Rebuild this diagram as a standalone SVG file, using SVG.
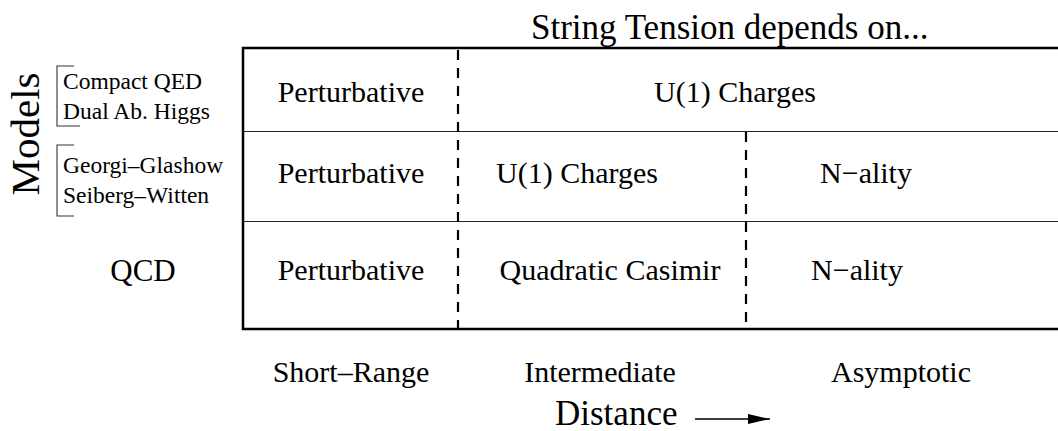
<svg xmlns="http://www.w3.org/2000/svg" width="1058" height="431" viewBox="0 0 1058 431">
<style>
text{font-family:"Liberation Serif","Times New Roman",serif;fill:#000}
.cell{font-size:30px;text-anchor:middle}
.small{font-size:23.5px}
.big{font-size:35px}
.border{stroke:#000;stroke-width:2.5;fill:none}
.thin{stroke:#222;stroke-width:1.2;fill:none}
.dash{stroke:#000;stroke-width:2.2;stroke-dasharray:10 8;fill:none}
.br{stroke:#333;stroke-width:1.1;fill:none}
</style>
<defs>
<marker id="arr" markerWidth="22" markerHeight="10" refX="22" refY="5" orient="auto" markerUnits="userSpaceOnUse">
<path d="M0,0 L22,5 L0,10 Z" fill="#000"/>
</marker>
</defs>
<g id="title"><text class="big" x="531" y="39">String Tension depends on...</text></g>
<g id="table">
<path class="border" d="M1058,48 H243 V329 H1058"/>
<line class="thin" x1="243" y1="131.5" x2="1058" y2="131.5"/>
<line class="thin" x1="243" y1="221.5" x2="1058" y2="221.5"/>
</g>
<g id="connectors">
<line class="dash" x1="458" y1="50" x2="458" y2="328"/>
<line class="dash" x1="746" y1="132" x2="746" y2="328"/>
<line stroke="#000" stroke-width="1.5" x1="695" y1="419" x2="770" y2="419" marker-end="url(#arr)"/>
</g>
<g id="models-label"><text class="big" style="font-size:41px" transform="translate(39,134) rotate(-90)" text-anchor="middle">Models</text></g>
<g id="group1">
<path class="br" d="M74,66 H57 V126 H80"/>
<text class="small" x="63" y="89">Compact QED</text>
<text class="small" x="63" y="119">Dual Ab. Higgs</text>
</g>
<g id="group2">
<path class="br" d="M74,145 H57 V216 H74"/>
<text class="small" x="63" y="173">Georgi–Glashow</text>
<text class="small" x="63" y="203">Seiberg–Witten</text>
</g>
<g id="qcd"><text class="cell" style="font-size:31px" x="143" y="281">QCD</text></g>
<g id="row1">
<text class="cell" x="351" y="102">Perturbative</text>
<text class="cell" x="735" y="102">U(1) Charges</text>
</g>
<g id="row2">
<text class="cell" x="351" y="183">Perturbative</text>
<text class="cell" x="577" y="183">U(1) Charges</text>
<text class="cell" x="866" y="183">N−ality</text>
</g>
<g id="row3">
<text class="cell" x="351" y="280">Perturbative</text>
<text class="cell" x="610" y="280">Quadratic Casimir</text>
<text class="cell" x="857" y="280">N−ality</text>
</g>
<g id="axis">
<text class="cell" x="351" y="382">Short–Range</text>
<text class="cell" x="600" y="382">Intermediate</text>
<text class="cell" x="901" y="382">Asymptotic</text>
<text class="big" x="555" y="425">Distance</text>
</g>
</svg>
